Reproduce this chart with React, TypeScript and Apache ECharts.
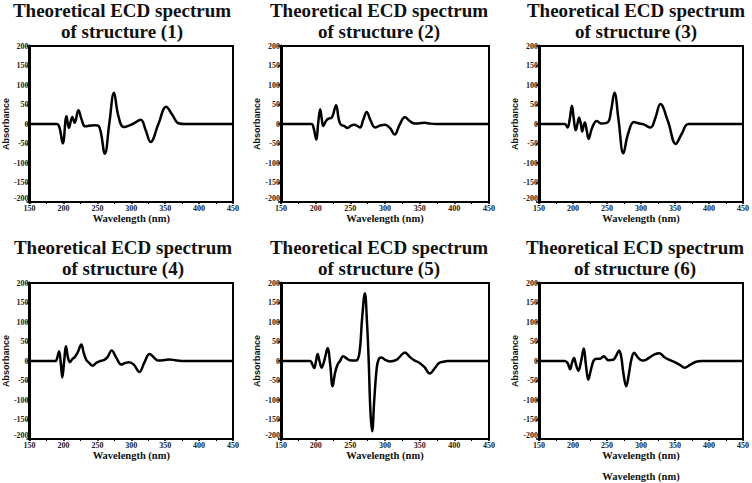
import React, { useEffect, useRef } from "react";
import * as echarts from "echarts";

// Wavelength (nm) / ECD value pairs
const wl1 = [150, 190, 194, 199, 204.5, 208, 213, 216.5, 222, 227, 232, 245, 252, 261, 267.5, 274.5, 281, 289, 302, 314, 321, 328.5, 340, 351.5, 360, 369.5, 380, 450];
const cd1 = [0, 0, -8, -50, 20, -10, 18, 3, 35, 10, -6, -3, -5, -76, 0, 80, 20, -8, 0, 11, -15, -46, 0, 44, 25, 2, 0, 0];

const wl2 = [150, 194, 197, 201, 203.5, 206.5, 209, 211, 215, 218.5, 223, 229.5, 233, 236, 241, 246, 251, 256, 260, 264, 268.5, 273.6, 279, 285.6, 293, 300, 307, 314, 321, 328.7, 336, 343, 350, 357.5, 365, 374, 450];
const cd2 = [0, 0, -10, -40, 0, 38, 10, -5, 8, 14, 16, 48, 15, -1, -5, -10, -4, -2, -5, -9, 10, 31, 10, -9, -4, -2, -10, -27, -2, 17, 7, 1, 2, 3, 1, 0, 0];

const wl3 = [150, 188, 192, 195, 198.4, 201, 204, 206.5, 209, 211.5, 213.6, 215.5, 217.4, 220, 223, 228, 235, 242, 251.6, 256, 261, 267, 274, 281, 289.6, 296, 303.8, 314, 321, 328.5, 340, 351, 360, 370, 450];
const cd3 = [0, 0, -9, 10, 47, 15, -16, 0, 16, 0, -19, -5, 4, -15, -38, -10, 8, 1, 5, 35, 80, 10, -75, -25, 5, 2, -1, -9, 15, 51, 5, -51, -25, 0, 0];

const wl4 = [150, 188, 191, 193.5, 196, 198.3, 201, 203.6, 206.5, 209.4, 213, 216.7, 221, 226.3, 230, 233.6, 238, 243, 248, 253, 260, 265, 271, 278, 285, 291, 297, 304, 312, 319, 327, 334, 340, 348, 356.8, 365, 373.7, 450];
const cd4 = [0, 0, 10, 25, -5, -42, 0, 38, 10, -3, 5, 10, 22, 42, 20, 3, -5, -12, -5, -1, 3, 10, 27, 8, -9, -5, -3, -10, -28, -5, 18, 8, 1, 2, 4, 2, 0, 0];

const wl5 = [150, 192, 195, 198, 200.5, 202.8, 205.5, 208.6, 213, 217.2, 221, 224.4, 228, 231.6, 235, 239.8, 245, 249, 258, 263, 267, 271, 274, 276.5, 279, 281.5, 284.5, 288, 291, 295, 301, 307, 316.6, 322, 328.6, 336, 343, 350, 357, 364.6, 372, 378, 384, 390, 450];
const cd5 = [0, 0, -8, -18, 0, 18, 0, -17, 5, 33, -10, -65, -30, -9, 0, 12, 6, 2, 1, 20, 110, 174, 100, 0, -130, -180, -100, -20, 5, 9, 2, -1, 3, 12, 22, 10, 1, -5, -16, -32, -18, -5, -2, 0, 0];

const wl6 = [150, 188, 192, 195.8, 198.5, 201.5, 204.5, 208, 212, 215.8, 219, 222.5, 226, 230, 233, 240, 245.4, 249, 252, 259, 263, 267.8, 271, 274, 278.3, 282, 286, 290, 295, 302, 307, 311.7, 320, 327, 335, 342.7, 347, 352, 358, 364, 372, 381, 390, 450];
const cd6 = [0, 0, -5, -21, -5, 8, -10, -25, 0, 32, -10, -48, -25, 0, 5, 6, 12, 6, 2, 3, 12, 27, 10, -30, -65, -35, 5, 21, 10, 1, 3, 8, 17, 20, 9, 2, -1, -5, -11, -17, -10, -2, 0, 0];

const structureLabels = ["(1)", "(2)", "(3)", "(4)", "(5)", "(6)"];
const xTicks = { min: 150, max: 450, interval: 50 };
const yTicks = { min: -200, max: 200, interval: 50 };

const wls = [wl1, wl2, wl3, wl4, wl5, wl6];
const cds = [cd1, cd2, cd3, cd4, cd5, cd6];

// layout
const grids = [
  { left: 25, top: 46, width: 208, height: 156 },
  { left: 281, top: 46, width: 208, height: 156 },
  { left: 539, top: 46, width: 211, height: 156 },
  { left: 25, top: 283, width: 208, height: 156 },
  { left: 281, top: 283, width: 208, height: 156 },
  { left: 539, top: 283, width: 211, height: 156 },
];
const titleX = [122, 379, 636, 123, 379, 635];
const titleY = [0, 0, 0, 237, 237, 237];

const serif = '"Liberation Serif", "Times New Roman", serif';
const sans = '"Liberation Sans", Arial, sans-serif';

export default function App() {
  const ref = useRef<HTMLDivElement>(null);
  useEffect(() => {
    document.body.style.margin = "0";
    const chart = echarts.init(ref.current!, undefined, { renderer: "svg" });
    const option: any = {
      animation: false,
      backgroundColor: "#ffffff",
      grid: grids.map((g) => ({
        ...g,
        show: true,
        borderColor: "#000",
        borderWidth: 2,
        backgroundColor: "transparent",
        containLabel: false,
      })),
      xAxis: grids.map((_, i) => ({
        type: "value",
        gridIndex: i,
        min: xTicks.min,
        max: xTicks.max,
        interval: xTicks.interval,
        name: "Wavelength (nm)",
        nameLocation: "middle",
        nameGap: 11,
        nameTextStyle: { fontFamily: serif, fontWeight: "bold", fontSize: 10.5, color: "#111" },
        axisLine: { show: true, onZero: false, lineStyle: { color: "#000", width: 2 } },
        axisTick: { show: true, inside: false, length: 2, lineStyle: { color: "#000", width: 1.5 } },
        minorTick: { show: true, splitNumber: 2, length: 2, lineStyle: { color: "#000", width: 1 } },
        axisLabel: { fontFamily: serif, fontWeight: "bold", fontSize: 8, color: "#222", margin: 2, showMinLabel: true, showMaxLabel: true, hideOverlap: false },
        splitLine: { show: false },
      })),
      yAxis: grids.map((_, i) => ({
        type: "value",
        gridIndex: i,
        min: yTicks.min,
        max: yTicks.max,
        interval: yTicks.interval,
        name: "Absorbance",
        nameLocation: "middle",
        nameGap: 16,
        nameTextStyle: { fontFamily: sans, fontWeight: "bold", fontSize: 9, color: "#111" },
        axisLine: { show: true, onZero: false, lineStyle: { color: "#000", width: 3 } },
        axisTick: { show: true, inside: false, length: 3, lineStyle: { color: "#000", width: 1.5 } },
        axisLabel: { fontFamily: serif, fontWeight: "bold", fontSize: 8, color: "#222", margin: 1, showMinLabel: true, showMaxLabel: true, verticalAlignMinLabel: "bottom" },
        splitLine: { show: false },
      })),
      series: wls.map((wl, i) => ({
        type: "line",
        xAxisIndex: i,
        yAxisIndex: i,
        data: wl.map((x, k) => [x, cds[i][k]]),
        smooth: 0.4,
        showSymbol: false,
        symbol: "none",
        lineStyle: { color: "#000", width: 2.5 },
        clip: true,
      })),
      graphic: [
        ...structureLabels.map((s, i) => ({
          type: "text",
          x: titleX[i],
          y: titleY[i],
          style: {
            text: "Theoretical ECD spectrum\nof structure " + s,
            font: "bold 19px " + serif,
            fill: "#111",
            textAlign: "center",
            textVerticalAlign: "top",
            lineHeight: 21,
          },
        })),
        {
          type: "text",
          x: 641,
          y: 471,
          style: {
            text: "Wavelength (nm)",
            font: "bold 10.5px " + serif,
            fill: "#111",
            textAlign: "center",
            textVerticalAlign: "top",
          },
        },
      ],
    };
    chart.setOption(option);
    return () => chart.dispose();
  }, []);
  return <div ref={ref} style={{ width: 752, height: 483 }} />;
}
